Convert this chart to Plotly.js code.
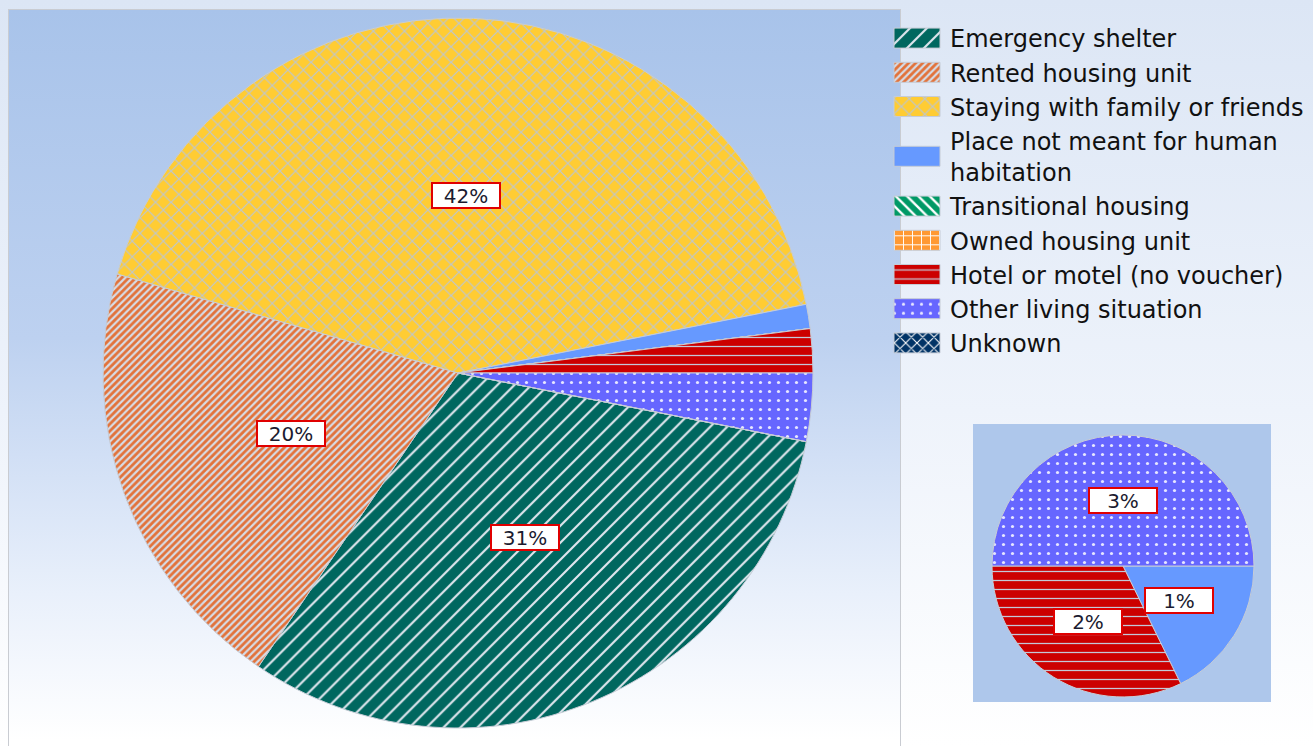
<!DOCTYPE html>
<html><head><meta charset="utf-8">
<script src="https://cdn.plot.ly/plotly-3.0.1.min.js"></script>
<style>html,body{margin:0;padding:0;background:#fff;overflow:hidden}#chart{width:1313px;height:746px}</style>
</head><body><div id="chart"></div>
<script>
// ---- data ----
const categories = ['Emergency shelter','Rented housing unit','Staying with family or friends','Place not meant for human<br>habitation','Transitional housing','Owned housing unit','Hotel or motel (no voucher)','Other living situation','Unknown'];
const shares = [31.4, 20.0, 42.4, 1.1, 0, 0, 2.0, 3.1, 0];
const sliceColors = ['#00675f','#e2723a','#ffcc33','#6699ff','#009966','#ff9933','#cc0000','#6666ff','#003366'];
const patternShapes = ['/','/','x','','\\','+','-','.','x'];
const patternFg = ['#dfe6ee','#d6dce6','#bcc6d2','#6699ff','#ffffff','#ffffff','#c4c8d8','#e6e6ff','#ffffff'];
const patternSize = [12, 5, 11, 8, 8, 9, 9, 9, 8];
const patternSolidity = [0.18, 0.45, 0.2, 0.2, 0.3, 0.2, 0.14, 0.1, 0.25];
const detailThreshold = 5;   // slices below this share are broken out into the small pie

// ---- derived ----
const W = 1313, H = 746;
const total = shares.reduce((a,b)=>a+b,0);
const pct = v => Math.round(v/total*100) + '%';
const hotelIdx = 6;
const tail = shares.slice(hotelIdx+1).reduce((a,b)=>a+b,0);
const mainRotation = 90 + tail/total*360;

const mainDomain = {x:[103/W, 813/W], y:[17/H, 729/H]};
const smallDomain = {x:[992/W, 1254/W], y:[49/H, 311/H]};

const detailIdx = shares.map((v,i)=>i).filter(i => shares[i] > 0 && shares[i] < detailThreshold);
const detailLabels = detailIdx.map(i=>categories[i]);
const detailValues = detailIdx.map(i=>shares[i]);

function pattern(idxs){
  return {
    shape: idxs.map(i=>patternShapes[i]),
    fgcolor: idxs.map(i=>patternFg[i]),
    bgcolor: idxs.map(i=>sliceColors[i]),
    size: idxs.map(i=>patternSize[i]),
    solidity: idxs.map(i=>patternSolidity[i]),
    fillmode: 'replace'
  };
}
const allIdx = categories.map((c,i)=>i);

const traces = [
  {type:'pie', labels:categories, values:shares, sort:false, direction:'clockwise',
   rotation: mainRotation, domain: mainDomain, textinfo:'none', hoverinfo:'label+percent',
   marker:{colors:sliceColors, pattern:pattern(allIdx), line:{color:'#c6ccd6', width:1}},
   showlegend:true},
  {type:'pie', labels:detailLabels, values:detailValues, sort:false, direction:'clockwise',
   rotation: 90, domain: smallDomain, textinfo:'none', hoverinfo:'label+value',
   marker:{colors:detailIdx.map(i=>sliceColors[i]), pattern:pattern(detailIdx), line:{color:'#c6ccd6', width:1}},
   showlegend:false}
];

function labelAnnotations(vals, domain, rotation, filter){
  const cx = (domain.x[0]+domain.x[1])/2, cy = (domain.y[0]+domain.y[1])/2;
  const r = Math.min((domain.x[1]-domain.x[0])*W, (domain.y[1]-domain.y[0])*H)/2;
  const sum = vals.reduce((a,b)=>a+b,0);
  let cum = 0; const out = [];
  vals.forEach((v,i)=>{
    const a = (rotation + (cum + v/2)/sum*360) * Math.PI/180;
    cum += v;
    if(!filter(v)) return;
    out.push({xref:'paper', yref:'paper', x: cx + 0.5*r*Math.sin(a)/W, y: cy + 0.5*r*Math.cos(a)/H,
      xanchor:'center', yanchor:'middle',
      text: pct(v), showarrow:false, bgcolor:'#ffffff', bordercolor:'#e00000', borderwidth:2,
      borderpad:1, width:64, height:21,
      font:{family:'DejaVu Sans', size:20, color:'#1b1b30'}});
  });
  return out;
}
const annotations = labelAnnotations(shares, mainDomain, mainRotation, v => v >= detailThreshold)
  .concat(labelAnnotations(detailValues, smallDomain, 90, v => v > 0));

// ---- background (gradient panels) ----
const cv = document.createElement('canvas'); cv.width = W; cv.height = H;
const g = cv.getContext('2d');
let gr = g.createLinearGradient(0,0,0,H);
gr.addColorStop(0,'#dce6f5'); gr.addColorStop(0.55,'#eef3fb'); gr.addColorStop(1,'#ffffff');
g.fillStyle = gr; g.fillRect(0,0,W,H);
gr = g.createLinearGradient(0,9,0,740);
gr.addColorStop(0,'#a8c3ea'); gr.addColorStop(0.45,'#bdd1f0'); gr.addColorStop(0.8,'#e9f0fb'); gr.addColorStop(1,'#ffffff');
g.fillStyle = gr; g.fillRect(8,9,893,760);
g.strokeStyle = '#c9ccd2'; g.lineWidth = 1; g.strokeRect(8.5,9.5,892,760);
g.fillStyle = '#aec7eb'; g.fillRect(973,424,298,278);
const bgImage = cv.toDataURL('image/png');

const layout = {
  width: W, height: H, margin:{l:0,r:0,t:0,b:0},
  paper_bgcolor:'rgba(0,0,0,0)', plot_bgcolor:'rgba(0,0,0,0)',
  images:[{source:bgImage, xref:'paper', yref:'paper', x:0, y:1, sizex:1, sizey:1,
           sizing:'stretch', xanchor:'left', yanchor:'top', layer:'below'}],
  legend:{x:880/W, y:1-16/H, xanchor:'left', yanchor:'top', itemwidth:60, bgcolor:'rgba(0,0,0,0)',
          font:{family:'DejaVu Sans', size:24, color:'#111111'}, traceorder:'normal', valign:'middle'},
  annotations: annotations,
  showlegend: true
};

Plotly.newPlot('chart', traces, layout, {displayModeBar:false, staticPlot:true}).then(gd => {
  // enlarge the legend swatches
  document.querySelectorAll('.legend path.legendpie').forEach(p => {
    p.setAttribute('d','M23,10H-23V-10H23Z');
    p.setAttribute('transform','translate(37,0)');
  });
});
</script></body></html>
